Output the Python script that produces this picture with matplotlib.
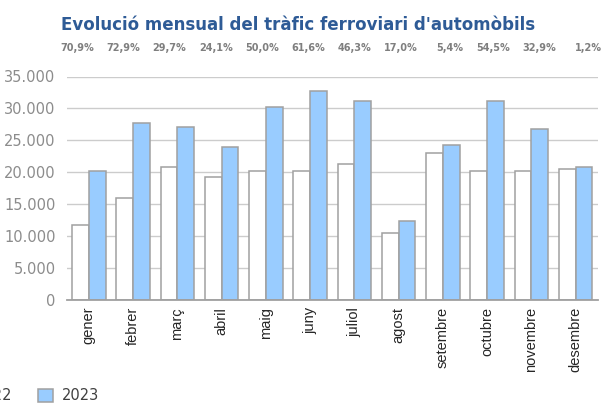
import numpy as np
import matplotlib.pyplot as plt
from matplotlib.ticker import FuncFormatter

months = ['gener', 'febrer', 'març', 'abril', 'maig', 'juny', 'juliol',
          'agost', 'setembre', 'octubre', 'novembre', 'desembre']
cars_2022 = [11800, 16050, 20850, 19300, 20200, 20250, 21300,
             10550, 23020, 20200, 20200, 20580]
cars_2023 = [20200, 27750, 27050, 23950, 30250, 32700, 31150,
             12350, 24270, 31180, 26800, 20830]
growth = ['70,9%', '72,9%', '29,7%', '24,1%', '50,0%', '61,6%', '46,3%',
          '17,0%', '5,4%', '54,5%', '32,9%', '1,2%']

W, H = 601, 403
fig = plt.figure(figsize=(W / 100, H / 100), dpi=100)
ax = fig.add_axes([66.7 / W, 1 - 300 / H, (597.7 - 66.7) / W, (300 - 76.5) / H])

x = np.arange(len(months))
bw = 0.377
edge = '#a0a0a0'
ax.bar(x - bw / 2, cars_2022, bw, color='white', edgecolor=edge,
       linewidth=1.1, label='2022', zorder=3)
ax.bar(x + bw / 2, cars_2023, bw, color='#99ccff', edgecolor=edge,
       linewidth=1.1, label='2023', zorder=3)

ax.set_xlim(-0.5, len(months) - 0.5)
ax.set_ylim(0, 35000)
ax.set_yticks(np.arange(0, 35001, 5000))
ax.yaxis.set_major_formatter(FuncFormatter(lambda v, p: f'{int(v):,}'.replace(',', '.')))
ax.grid(axis='y', color='#cccccc', linewidth=1.0, zorder=0)
for s in ['top', 'right', 'left']:
    ax.spines[s].set_visible(False)
ax.spines['bottom'].set_color('#a0a0a0')
ax.spines['bottom'].set_linewidth(1.3)
ax.spines['bottom'].set_zorder(4)

ax.set_xticks(x)
ax.set_xticklabels(months, rotation=90, fontsize=10.5, color='#262626',
                   family='Liberation Sans')
ax.tick_params(axis='x', length=0, pad=5)
ax.tick_params(axis='y', length=0, pad=8, labelsize=10.5, labelcolor='#8c8c8c')
for t in ax.get_yticklabels():
    t.set_family('DejaVu Sans')

fig.text(298 / W, 1 - 24.5 / H, "Evolució mensual del tràfic ferroviari d'automòbils",
         ha='center', va='center', fontsize=12, fontweight='bold', color='#2e5b96')

# growth row above the plot, right aligned in equal cells
for i, g in enumerate(growth):
    fig.text((94 + 46.2 * i) / W, 1 - 48 / H, g, ha='right', va='center',
             fontsize=7, fontweight='bold', color='#7f7f7f')

fig.legend(loc='center left', bbox_to_anchor=(-56 / W, 1 - 396 / H), ncol=2,
           frameon=False, fontsize=10.5, handlelength=1.0, handleheight=1.0,
           handletextpad=0.6, columnspacing=1.8, borderpad=0, labelcolor='#404040')

fig.savefig('out.png', dpi=100)
